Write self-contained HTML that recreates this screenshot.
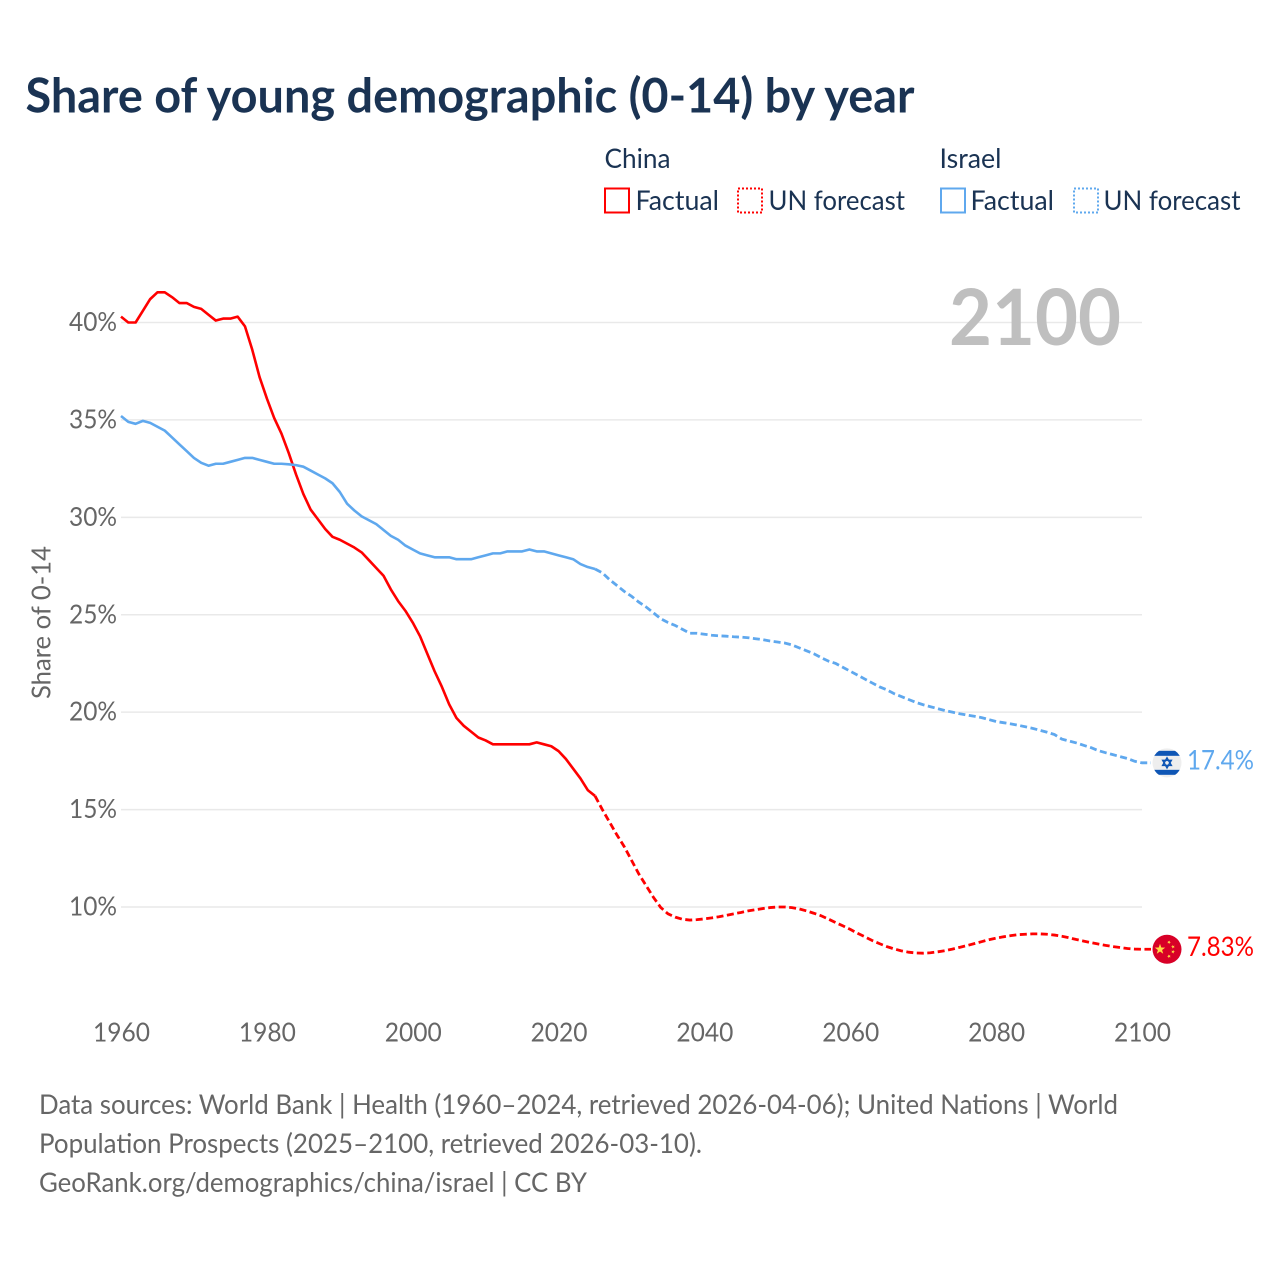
<!DOCTYPE html>
<html lang="en">
<head>
<meta charset="utf-8">
<title>Share of young demographic (0-14) by year</title>
<style>
html,body{margin:0;padding:0;background:#fff;}
svg{display:block;}
text{font-family:"Lato","Carlito","Liberation Sans",sans-serif;}
</style>
</head>
<body>
<svg id="chart" xmlns="http://www.w3.org/2000/svg" width="1280" height="1280" viewBox="0 0 1280 1280">
  <defs>
    <clipPath id="flag-clip"><circle r="14.5"/></clipPath>
  </defs>
  <rect width="1280" height="1280" fill="#fff"/>
  <text x="25.5" y="112.5" font-size="48" font-weight="700" fill="#1a3353" textLength="889" lengthAdjust="spacingAndGlyphs">Share of young demographic (0-14) by year</text>

  <g font-size="27.5" fill="#1a3353">
    <text x="604.5" y="168" textLength="66" lengthAdjust="spacingAndGlyphs">China</text>
    <text x="939.5" y="168" textLength="62" lengthAdjust="spacingAndGlyphs">Israel</text>
    <rect x="605" y="188.5" width="24" height="24" fill="none" stroke="#ff0000" stroke-width="2"/>
    <text x="635.5" y="210" textLength="83.5" lengthAdjust="spacingAndGlyphs">Factual</text>
    <rect x="738" y="188.5" width="24" height="24" fill="none" stroke="#ff0000" stroke-width="2" stroke-dasharray="2 2"/>
    <text x="768.5" y="210" textLength="136.5" lengthAdjust="spacingAndGlyphs">UN forecast</text>
    <rect x="941" y="188.5" width="24" height="24" fill="none" stroke="#5fa8ee" stroke-width="2"/>
    <text x="970.5" y="210" textLength="83.5" lengthAdjust="spacingAndGlyphs">Factual</text>
    <rect x="1074" y="188.5" width="24" height="24" fill="none" stroke="#5fa8ee" stroke-width="2" stroke-dasharray="2 2"/>
    <text x="1103.5" y="210" textLength="137" lengthAdjust="spacingAndGlyphs">UN forecast</text>
  </g>

  <g id="grid"></g>
  <text x="949" y="345" font-size="78" font-weight="700" fill="#bfbfbf" textLength="172" lengthAdjust="spacingAndGlyphs">2100</text>
  <g id="yaxis"></g>
  <g id="xaxis"></g>
  <text transform="translate(50.5,622.5) rotate(-90)" text-anchor="middle" font-size="26" fill="#666666" textLength="153" lengthAdjust="spacingAndGlyphs">Share of 0-14</text>
  <g id="series"></g>
  <g id="ends"></g>

  <g font-size="27.5" fill="#666666">
    <text x="39" y="1114" textLength="1079" lengthAdjust="spacingAndGlyphs">Data sources: World Bank | Health (1960–2024, retrieved 2026-04-06); United Nations | World</text>
    <text x="39" y="1153" textLength="663" lengthAdjust="spacingAndGlyphs">Population Prospects (2025–2100, retrieved 2026-03-10).</text>
    <text x="39" y="1192" textLength="548" lengthAdjust="spacingAndGlyphs">GeoRank.org/demographics/china/israel | CC BY</text>
  </g>
</svg>
<script>
var xTickYears = [1960, 1980, 2000, 2020, 2040, 2060, 2080, 2100];
var yTickValues = [10, 15, 20, 25, 30, 35, 40];
var factualStartYear = 1960;
var forecastStartYear = 2025;
var chinaFactual = [40.3,40.0,40.0,40.6,41.2,41.55,41.55,41.3,41.0,41.0,40.8,40.7,40.4,40.1,40.2,40.2,40.3,39.8,38.6,37.2,36.1,35.1,34.3,33.3,32.2,31.2,30.4,29.9,29.4,29.0,28.85,28.65,28.45,28.2,27.8,27.4,27.0,26.3,25.7,25.2,24.6,23.9,23.0,22.1,21.3,20.4,19.7,19.3,19.0,18.7,18.55,18.35,18.35,18.35,18.35,18.35,18.35,18.45,18.35,18.25,18.0,17.6,17.1,16.6,16.0,15.7];
var chinaForecast = [15.7,15.0,14.35,13.7,13.1,12.4,11.7,11.1,10.5,9.98,9.65,9.48,9.37,9.33,9.35,9.39,9.44,9.5,9.57,9.65,9.72,9.8,9.86,9.92,9.97,10.0,10.0,9.97,9.9,9.8,9.68,9.55,9.38,9.2,9.03,8.85,8.65,8.47,8.28,8.12,7.97,7.85,7.75,7.68,7.64,7.63,7.65,7.7,7.76,7.84,7.93,8.02,8.12,8.22,8.32,8.4,8.47,8.53,8.58,8.6,8.62,8.62,8.6,8.56,8.5,8.42,8.33,8.25,8.17,8.1,8.03,7.97,7.92,7.87,7.84,7.83];
var israelFactual = [35.2,34.9,34.8,34.95,34.85,34.65,34.45,34.1,33.75,33.4,33.05,32.8,32.65,32.75,32.75,32.85,32.95,33.05,33.05,32.95,32.85,32.75,32.75,32.72,32.68,32.6,32.4,32.2,32.0,31.75,31.3,30.7,30.35,30.05,29.85,29.65,29.35,29.05,28.85,28.55,28.35,28.15,28.05,27.95,27.95,27.95,27.85,27.85,27.85,27.95,28.05,28.15,28.15,28.25,28.25,28.25,28.35,28.25,28.25,28.15,28.05,27.95,27.85,27.6,27.45,27.35];
var israelForecast = [27.35,27.15,26.8,26.5,26.2,25.95,25.65,25.4,25.1,24.8,24.6,24.45,24.25,24.05,24.05,24.0,23.95,23.92,23.9,23.87,23.85,23.82,23.77,23.72,23.65,23.6,23.55,23.45,23.3,23.15,23.0,22.8,22.62,22.5,22.3,22.1,21.9,21.7,21.5,21.3,21.15,20.95,20.8,20.65,20.5,20.38,20.28,20.18,20.08,20.0,19.92,19.85,19.79,19.72,19.62,19.52,19.46,19.4,19.33,19.25,19.17,19.07,18.97,18.85,18.62,18.52,18.42,18.3,18.18,18.03,17.92,17.82,17.72,17.62,17.48,17.4];
var chinaEndLabel = "7.83%";
var israelEndLabel = "17.4%";

var NS = "http://www.w3.org/2000/svg";
function xScale(year) { return 121 + (year - 1960) * (1142 - 121) / 140; }
function yScale(v) { return 322.5 + (40 - v) * (907 - 322.5) / 30; }
function make(tag, attrs, parent) {
  var el = document.createElementNS(NS, tag);
  for (var k in attrs) el.setAttribute(k, attrs[k]);
  parent.appendChild(el);
  return el;
}
function linePath(values, startYear, extra) {
  var d = values.map(function (v, i) {
    return (i ? "L" : "M") + xScale(startYear + i).toFixed(2) + " " + yScale(v).toFixed(2);
  }).join(" ");
  if (extra) d += " L" + (xScale(startYear + values.length - 1) + extra) + " " + yScale(values[values.length - 1]).toFixed(2);
  return d;
}

var gridG = document.getElementById("grid");
var yG = document.getElementById("yaxis");
var xG = document.getElementById("xaxis");
var seriesG = document.getElementById("series");
var endsG = document.getElementById("ends");

yTickValues.forEach(function (v) {
  var line = make("line", {x1: 121, x2: 1142, y1: yScale(v), y2: yScale(v), stroke: "#e9e9e9", "stroke-width": 1.5}, gridG);
  
  
  var t = make("text", {x: 117, y: yScale(v) + 8.5, "text-anchor": "end", "font-size": 26, fill: "#666666", textLength: 48, lengthAdjust: "spacingAndGlyphs"}, yG);
  
  
  t.textContent = v + "%";
});

xTickYears.forEach(function (year) {
  var t = make("text", {x: xScale(year) + 0.5, y: 1041.5, "text-anchor": "middle", "font-size": 26, fill: "#666666", textLength: 57, lengthAdjust: "spacingAndGlyphs"}, xG);
  
  
  t.textContent = year;
});

var pChinaF = make("path", {d: linePath(chinaFactual, factualStartYear), fill: "none", stroke: "#ff0000", "stroke-width": 2.6, "stroke-linejoin": "round"}, seriesG);


var pIsraelF = make("path", {d: linePath(israelFactual, factualStartYear), fill: "none", stroke: "#5fa8ee", "stroke-width": 2.6, "stroke-linejoin": "round"}, seriesG);


var pChinaP = make("path", {d: linePath(chinaForecast, forecastStartYear, 9), fill: "none", stroke: "#ff0000", "stroke-width": 2.8, "stroke-dasharray": "7 3.5"}, seriesG);


var pIsraelP = make("path", {d: linePath(israelForecast, forecastStartYear, 9), fill: "none", stroke: "#5fa8ee", "stroke-width": 2.8, "stroke-dasharray": "7 3.5"}, seriesG);



function starPoints(cx, cy, r, rot) {
  var pts = [];
  for (var i = 0; i < 10; i++) {
    var a = rot + i * Math.PI / 5 - Math.PI / 2;
    var rad = i % 2 ? r * 0.4 : r;
    pts.push((cx + rad * Math.cos(a)).toFixed(2) + "," + (cy + rad * Math.sin(a)).toFixed(2));
  }
  return pts.join(" ");
}

// flags and value labels at the end of each series
var lastChina = chinaForecast[chinaForecast.length - 1];
var lastIsrael = israelForecast[israelForecast.length - 1];
var xEnd = xScale(2100);

var ilFlag = make("g", {transform: "translate(" + (xEnd + 25) + "," + yScale(lastIsrael) + ")"}, endsG);


make("circle", {r: 14.5, fill: "#eeeeee"}, ilFlag);
make("rect", {x: -15, y: -12, width: 30, height: 5, fill: "#0f56b5", "clip-path": "url(#flag-clip)"}, ilFlag);
make("rect", {x: -15, y: 7, width: 30, height: 5, fill: "#0f56b5", "clip-path": "url(#flag-clip)"}, ilFlag);
make("polygon", {points: "0,-5 4.3,2.5 -4.3,2.5", fill: "none", stroke: "#0f56b5", "stroke-width": 1.5}, ilFlag);
make("polygon", {points: "0,5 4.3,-2.5 -4.3,-2.5", fill: "none", stroke: "#0f56b5", "stroke-width": 1.5}, ilFlag);

var cnFlag = make("g", {transform: "translate(" + (xEnd + 25) + "," + yScale(lastChina) + ")"}, endsG);


make("circle", {r: 14.5, fill: "#d80027"}, cnFlag);
make("polygon", {points: starPoints(-7, 0, 5.5, 0), fill: "#ffda44"}, cnFlag);
make("polygon", {points: starPoints(2, -7, 2, 0.5), fill: "#ffda44"}, cnFlag);
make("polygon", {points: starPoints(6, -2.5, 2, 1), fill: "#ffda44"}, cnFlag);
make("polygon", {points: starPoints(6, 2.5, 2, 0.2), fill: "#ffda44"}, cnFlag);
make("polygon", {points: starPoints(2, 7, 2, 0.8), fill: "#ffda44"}, cnFlag);

var ilLabel = make("text", {x: 1187, y: yScale(lastIsrael) + 6.5, "font-size": 27, fill: "#5fa8ee", textLength: 67, lengthAdjust: "spacingAndGlyphs"}, endsG);


ilLabel.textContent = israelEndLabel;
var cnLabel = make("text", {x: 1187, y: yScale(lastChina) + 6.5, "font-size": 27, fill: "#ff0000", textLength: 67, lengthAdjust: "spacingAndGlyphs"}, endsG);


cnLabel.textContent = chinaEndLabel;
</script>
</body>
</html>
